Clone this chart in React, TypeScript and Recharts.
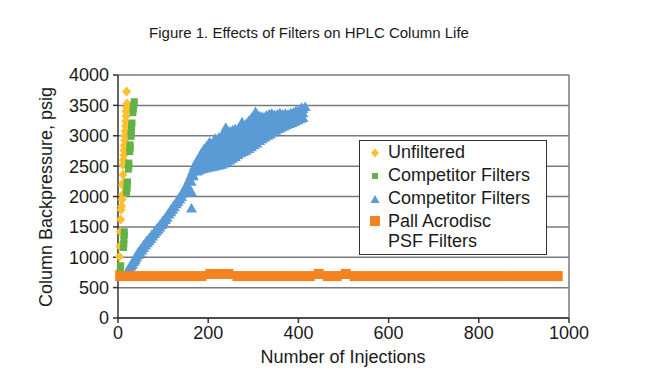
import React from 'react';
import { ScatterChart, Scatter, XAxis, YAxis, CartesianGrid, ReferenceLine, Legend } from 'recharts';

// [injections, psig]
const unfilteredPts: [number, number][] = [
  [2, 760], [3, 1010], [4, 1180], [5, 1420], [6, 1620], [7, 1780], [8, 1840], [9, 1950],
  [10, 2030], [10, 2190], [11, 2220], [11, 2360], [11, 2520], [12, 2600], [13, 2680],
  [13, 2760], [14, 2840], [15, 2920], [15, 3000], [16, 3080], [17, 3160], [17, 3240],
  [18, 3320], [18, 3400], [19, 3460], [20, 3530], [19, 3730],
];

const competitorGreenPts: [number, number][] = [
  [5, 800], [6, 860], [12, 1160], [13, 1220], [13, 1290], [14, 1360], [14, 1420],
  [19, 2070], [20, 2130], [20, 2190], [21, 2240], [23, 2450], [24, 2500], [24, 2550],
  [26, 2740], [27, 2800], [27, 2850], [29, 2990], [29, 3050], [30, 3110], [30, 3170],
  [31, 3210], [33, 3380], [34, 3440], [35, 3500], [36, 3560],
];

const competitorBluePts: [number, number][] = [
  // rising part
  [20, 740], [23, 780], [26, 820], [29, 860], [32, 890], [35, 930], [38, 960], [41, 1000],
  [45, 1040], [49, 1080], [53, 1120], [57, 1160], [61, 1200], [65, 1240], [69, 1270],
  [73, 1310], [77, 1350], [81, 1390], [85, 1430], [89, 1460], [93, 1500], [97, 1540],
  [101, 1580], [105, 1620], [109, 1660], [113, 1710], [117, 1750], [121, 1790],
  [125, 1830], [129, 1880], [133, 1920], [137, 1960], [141, 2000], [145, 2060],
  [149, 2130], [153, 2200], [157, 2270], [161, 2340], [165, 2420], [169, 2500], [173, 2560],
  [22, 800], [27, 860], [33, 930], [39, 1010], [45, 1090], [51, 1150], [57, 1210],
  [63, 1270], [69, 1320], [75, 1380], [81, 1430], [87, 1490], [93, 1540], [99, 1600],
  [105, 1660], [111, 1720], [117, 1790], [123, 1850], [129, 1910], [135, 1980],
  [141, 2050], [147, 2120], [153, 2200], [159, 2290], [165, 2380], [171, 2470],
  [150, 2070], [156, 2160], [162, 2250], [167, 2340], [163, 1810], [163, 2080],
  // scattered plateau
  [176, 2420], [176, 2520], [176, 2600], [182, 2440], [182, 2560], [182, 2660],
  [188, 2460], [188, 2580], [188, 2700], [194, 2470], [194, 2620], [194, 2750],
  [200, 2480], [200, 2640], [200, 2800], [206, 2490], [206, 2620], [206, 2760], [206, 2850],
  [212, 2500], [212, 2660], [212, 2800], [212, 2900], [218, 2510], [218, 2680], [218, 2830], [218, 2940],
  [224, 2520], [224, 2700], [224, 2860], [224, 2980], [230, 2530], [230, 2720], [230, 2880], [230, 3000],
  [236, 2550], [236, 2740], [236, 2900], [236, 3080], [242, 2570], [242, 2760], [242, 2920], [242, 3060],
  [248, 2600], [248, 2780], [248, 2940], [248, 3080], [254, 2630], [254, 2800], [254, 2960], [254, 3100],
  [260, 2660], [260, 2830], [260, 2980], [260, 3120], [266, 2690], [266, 2860], [266, 3020], [266, 3100],
  [272, 2720], [272, 2880], [272, 3040], [272, 3150], [278, 2740], [278, 2900], [278, 3060], [278, 3180],
  [284, 2760], [284, 2920], [284, 3080], [284, 3200], [290, 2790], [290, 2960], [290, 3120], [290, 3250],
  [296, 2820], [296, 2990], [296, 3150], [296, 3300], [302, 2850], [302, 3020], [302, 3180], [302, 3320],
  [308, 2880], [308, 3040], [308, 3200], [308, 3350], [314, 2920], [314, 3070], [314, 3220], [314, 3330],
  [320, 2950], [320, 3100], [320, 3240], [320, 3320], [326, 2980], [326, 3130], [326, 3260], [326, 3310],
  [332, 3010], [332, 3150], [332, 3280], [332, 3300], [338, 3030], [338, 3170], [338, 3290], [338, 3340],
  [344, 3060], [344, 3190], [344, 3300], [344, 3320], [350, 3090], [350, 3210], [350, 3310],
  [356, 3120], [356, 3230], [356, 3330], [362, 3140], [362, 3240], [362, 3330],
  [368, 3160], [368, 3250], [368, 3320], [374, 3180], [374, 3260], [374, 3330],
  [380, 3200], [380, 3270], [380, 3320], [386, 3220], [386, 3290], [386, 3340],
  [392, 3240], [392, 3300], [392, 3350], [398, 3260], [398, 3320], [398, 3370],
  [404, 3280], [404, 3340], [404, 3400], [410, 3300], [410, 3380], [410, 3450], [415, 3480],
  [179, 2480], [179, 2610], [185, 2500], [185, 2640], [185, 2720], [191, 2530], [191, 2690], [191, 2790],
  [197, 2550], [197, 2720], [197, 2840], [203, 2560], [203, 2710], [203, 2900], [209, 2580], [209, 2740], [209, 2870],
  [215, 2600], [215, 2760], [215, 2960], [221, 2610], [221, 2780], [221, 2920], [227, 2620], [227, 2800], [227, 2950],
  [233, 2640], [233, 2810], [233, 2960], [239, 2660], [239, 2830], [239, 3000], [239, 3140],
  [245, 2680], [245, 2850], [245, 3010], [251, 2710], [251, 2880], [251, 3030], [257, 2740], [257, 2900], [257, 3060],
  [263, 2770], [263, 2940], [263, 3080], [269, 2800], [269, 2960], [269, 3110], [275, 2820], [275, 2980], [275, 3130], [275, 3230],
  [281, 2840], [281, 3000], [281, 3150], [287, 2870], [287, 3030], [287, 3190], [293, 2900], [293, 3060], [293, 3220],
  [299, 2930], [299, 3090], [299, 3240], [305, 2960], [305, 3110], [305, 3270], [305, 3400],
  [311, 3000], [311, 3140], [311, 3290], [317, 3020], [317, 3170], [317, 3280], [323, 3050], [323, 3190], [323, 3290],
  [329, 3080], [329, 3210], [329, 3340], [335, 3100], [335, 3230], [335, 3360], [341, 3120], [341, 3240], [341, 3370],
  [347, 3140], [347, 3260], [347, 3350], [353, 3170], [353, 3270], [353, 3360], [359, 3190], [359, 3290], [359, 3380],
  [365, 3200], [365, 3290], [365, 3360], [371, 3220], [371, 3300], [371, 3370], [377, 3230], [377, 3300], [377, 3360],
  [383, 3250], [383, 3320], [383, 3380], [389, 3260], [389, 3330], [389, 3390], [395, 3280], [395, 3350], [395, 3420],
  [401, 3300], [401, 3370], [401, 3420], [407, 3330], [407, 3400], [407, 3470],
];

const pallPts: [number, number][] = [
  [5, 690], [25, 690], [45, 690], [65, 690], [85, 690], [105, 690], [125, 690], [145, 690],
  [165, 690], [185, 690], [205, 725], [225, 725], [245, 725], [265, 690], [285, 690],
  [305, 690], [325, 690], [345, 690], [365, 690], [385, 690], [405, 690], [425, 690],
  [445, 725], [465, 690], [485, 690], [505, 725], [525, 690], [545, 690], [565, 690],
  [585, 690], [605, 690], [625, 690], [645, 690], [665, 690], [685, 690], [705, 690],
  [725, 690], [745, 690], [765, 690], [785, 690], [805, 690], [825, 690], [845, 690],
  [865, 690], [885, 690], [905, 690], [925, 690], [945, 690], [965, 690], [975, 690],
];

const xTicks = [0, 200, 400, 600, 800, 1000];
const yTicks = [0, 500, 1000, 1500, 2000, 2500, 3000, 3500, 4000];

const toXY = (pts: [number, number][]) => pts.map(([x, y]) => ({ x, y }));

const FONT = '"Liberation Sans", Arial, Helvetica, sans-serif';
const YELLOW = '#fbc02d';
const GREEN = '#62b346';
const BLUE = '#5b9bd5';
const ORANGE = '#f5821f';

const legendItems = [
  { label: 'Unfiltered', color: YELLOW, type: 'diamond' },
  { label: 'Competitor Filters', color: GREEN, type: 'square' },
  { label: 'Competitor Filters', color: BLUE, type: 'triangle' },
  { label: 'Pall Acrodisc\nPSF Filters', color: ORANGE, type: 'bigsquare' },
];

const Diamond = (p: any) => (
  <polygon points={`${p.cx},${p.cy - 5} ${p.cx + 4.5},${p.cy} ${p.cx},${p.cy + 5} ${p.cx - 4.5},${p.cy}`} fill={YELLOW} />
);
const GreenSq = (p: any) => <rect x={p.cx - 3.5} y={p.cy - 3.5} width={7} height={7} fill={GREEN} />;
const Tri = (p: any) => (
  <polygon points={`${p.cx},${p.cy - 5} ${p.cx + 5.5},${p.cy + 4.5} ${p.cx - 5.5},${p.cy + 4.5}`} fill={BLUE} />
);
const OrangeSq = (p: any) => <rect x={p.cx - 5} y={p.cy - 5} width={10} height={10} fill={ORANGE} />;

const LegendMarker = ({ type, color }: { type: string; color: string }) => {
  if (type === 'diamond')
    return <svg width={10} height={10}><polygon points="5,0.5 9,5 5,9.5 1,5" fill={color} /></svg>;
  if (type === 'triangle')
    return <svg width={10} height={10}><polygon points="5,1 9.5,9 0.5,9" fill={color} /></svg>;
  if (type === 'bigsquare')
    return <svg width={12} height={12}><rect x={1} y={1} width={10} height={10} fill={color} /></svg>;
  return <svg width={10} height={10}><rect x={2} y={2} width={6} height={6} fill={color} /></svg>;
};

const renderLegend = () => (
  <div style={{ border: '1.5px solid #333', background: '#fff', width: 188, height: 115, boxSizing: 'border-box', padding: '1px 0 0 6px', fontFamily: FONT, fontSize: 18, color: '#1a1a1a' }}>
    {legendItems.map((item, i) => (
      <div key={i} style={{ display: 'flex', alignItems: 'flex-start', minHeight: 23, lineHeight: '21px' }}>
        <div style={{ width: 18, display: 'flex', justifyContent: 'center', paddingTop: i === 3 ? 4 : 6 }}>
          <LegendMarker type={item.type} color={item.color} />
        </div>
        <div style={{ marginLeft: 4, whiteSpace: 'pre', lineHeight: i === 3 ? '20px' : '21px' }}>{item.label}</div>
      </div>
    ))}
  </div>
);

export default function App() {
  return (
    <div style={{ position: 'absolute', left: 0, top: 0, width: 650, height: 390, background: '#fff', fontFamily: FONT }}>
      <div style={{ position: 'absolute', left: 0, width: 618, top: 24, textAlign: 'center', fontSize: 15, color: '#1a1a1a' }}>
        Figure 1. Effects of Filters on HPLC Column Life
      </div>
      <div style={{ position: 'absolute', left: 46, top: 197, transform: 'translate(-50%, -50%) rotate(-90deg)', whiteSpace: 'nowrap', fontSize: 18, color: '#1a1a1a' }}>
        Column Backpressure, psig
      </div>
      <div style={{ position: 'absolute', left: 343, top: 357, transform: 'translate(-50%, -50%)', whiteSpace: 'nowrap', fontSize: 18, color: '#1a1a1a' }}>
        Number of Injections
      </div>
      <ScatterChart width={650} height={390} margin={{ top: 75, right: 81, bottom: 42, left: 58 }}>
        <CartesianGrid vertical={false} stroke="#7a7a7a" strokeWidth={1.5} />
        <ReferenceLine x={1000} stroke="#7a7a7a" strokeWidth={1.5} />
        <XAxis type="number" dataKey="x" domain={[0, 1000]} ticks={xTicks} height={30} tickSize={5} tickMargin={3}
          stroke="#333" strokeWidth={1.5} tick={{ fill: '#1a1a1a', fontSize: 18, fontFamily: FONT }} />
        <YAxis type="number" dataKey="y" domain={[0, 4000]} ticks={yTicks} width={60} tickSize={5} tickMargin={4}
          stroke="#333" strokeWidth={1.5} tick={{ fill: '#1a1a1a', fontSize: 18, fontFamily: FONT }} />
        <Legend layout="vertical" align="center" verticalAlign="middle" content={renderLegend}
          wrapperStyle={{ left: 359, top: 140, width: 188, height: 115 }} />
        <Scatter name="Unfiltered" data={toXY(unfilteredPts)} fill={YELLOW} shape={Diamond} isAnimationActive={false} />
        <Scatter name="Competitor Filters" data={toXY(competitorGreenPts)} fill={GREEN} shape={GreenSq} isAnimationActive={false} />
        <Scatter name="Competitor Filters " data={toXY(competitorBluePts)} fill={BLUE} shape={Tri} isAnimationActive={false} />
        <Scatter name="Pall Acrodisc PSF Filters" data={toXY(pallPts)} fill={ORANGE} shape={OrangeSq} isAnimationActive={false} />
      </ScatterChart>
    </div>
  );
}
